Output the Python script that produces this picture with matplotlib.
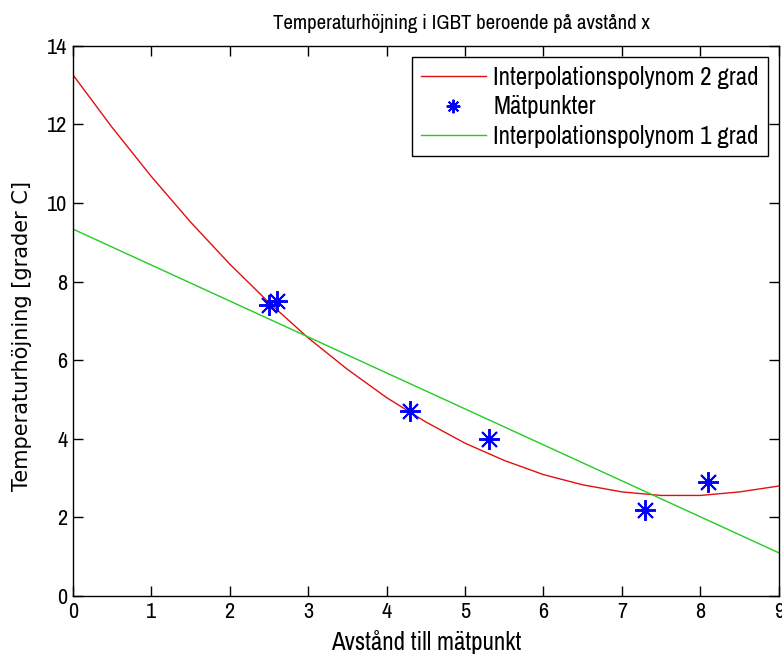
import matplotlib
matplotlib.use("Agg")
import matplotlib.pyplot as plt

# measured points
x_meas = [2.5, 2.6, 4.3, 5.3, 7.3, 8.1]
y_meas = [7.4, 7.5, 4.7, 4.0, 2.2, 2.9]

# 2nd degree polynomial, every 0.5
x_curve = [0.0, 0.5, 1.0, 1.5, 2.0, 2.5, 3.0, 3.5, 4.0, 4.5,
           5.0, 5.5, 6.0, 6.5, 7.0, 7.5, 8.0, 8.5, 9.0]
y_curve2 = [13.27, 11.93, 10.68, 9.52, 8.45, 7.47, 6.57, 5.77, 5.05, 4.43,
            3.89, 3.45, 3.09, 2.83, 2.65, 2.56, 2.56, 2.65, 2.80]

# 1st degree polynomial (end points)
x_line = [0.0, 9.0]
y_line1 = [9.34, 1.10]

plt.rcParams['font.family'] = ['Archivo Narrow', 'Liberation Sans', 'DejaVu Sans']

fig = plt.figure(figsize=(7.82, 6.55), dpi=100)
ax = fig.add_axes([0.093, 0.090, 0.903, 0.840])

ax.plot(x_curve, y_curve2, color='#e01010', lw=1.0, label='Interpolationspolynom 2 grad')
ax.plot(x_meas, y_meas, linestyle='none', marker=(8, 2, 0), markersize=15,
        markeredgewidth=1.4, color='#0000ff', label='Mätpunkter')
ax.plot(x_line, y_line1, color='#22cc22', lw=1.0, label='Interpolationspolynom 1 grad')

ax.set_xlim(0, 9)
ax.set_ylim(0, 14)
ax.set_xticks(range(0, 10))
ax.set_yticks(range(0, 15, 2))
ax.tick_params(direction='in', length=7, width=1, top=True, right=True,
               labelsize=16, pad=4)
for s in ax.spines.values():
    s.set_linewidth(1.0)

ax.set_title('Temperaturhöjning i IGBT beroende på avstånd x', fontsize=15, x=0.55, pad=12)
ax.set_xlabel('Avstånd till mätpunkt', fontsize=18, labelpad=6)
# rotated text in the reference is long and thin, so a wider face is used here
ax.set_ylabel('Temperaturhöjning [grader C]', fontsize=15,
              family=['DejaVu Sans'])
ax.yaxis.set_label_coords(-0.058, 0.472)

leg = ax.legend(loc='upper right', bbox_to_anchor=(0.984, 0.979), fontsize=18,
                fancybox=False, framealpha=1, edgecolor='black', handlelength=2.6,
                borderaxespad=0, borderpad=0.35, labelspacing=0.25, handletextpad=0.3,
                markerscale=0.65)
leg.get_frame().set_linewidth(1.0)

fig.savefig('out.png', dpi=100)
